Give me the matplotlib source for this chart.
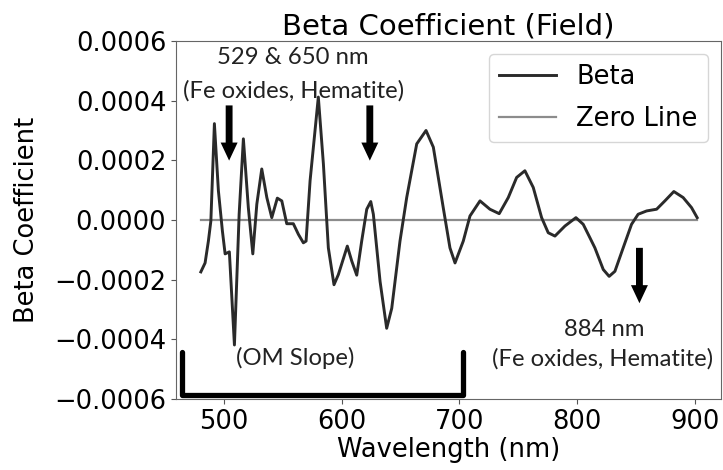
import matplotlib
matplotlib.use("Agg")
import matplotlib.pyplot as plt
from matplotlib.ticker import FuncFormatter, MultipleLocator

wavelength = [480.6, 484.2, 487.0, 489.1, 492.1, 495.5, 498.9, 501.2, 504.8, 509.1,
              513.1, 516.7, 520.9, 524.7, 528.1, 532.3, 536.6, 540.8, 545.5, 549.3,
              553.5, 559.1, 563.4, 567.6, 569.9, 573.3, 580.3, 584.6, 588.8, 593.6,
              597.3, 604.9, 608.7, 612.9, 617.1, 621.4, 624.8, 627.0, 632.7, 638.3,
              642.6, 649.6, 655.3, 663.8, 671.7, 677.9, 686.3, 692.0, 696.3, 703.3,
              709.0, 717.5, 725.9, 733.8, 741.5, 748.6, 755.6, 762.7, 769.8, 775.4,
              781.1, 789.6, 798.9, 805.1, 810.8, 815.0, 822.1, 827.1, 832.0, 839.0,
              846.1, 851.7, 858.9, 867.4, 874.4, 882.0, 889.9, 897.0, 901.8]
beta = [-0.000174, -0.000144, -0.0000708, -0.0000034, 0.000323, 0.0000978, -0.0000371,
        -0.0001136, -0.0001069, -0.000419, 0.0000192, 0.000272, 0.0000415, -0.0001136,
        0.0000529, 0.000171, 0.0000752, 0.0000078, 0.0000732, 0.000064, -0.0000125,
        -0.0000125, -0.0000482, -0.0000765, -0.0000708, 0.0001315, 0.000412, 0.000188,
        -0.0000934, -0.000217, -0.000183, -0.0000876, -0.000138, -0.000185, -0.0000708,
        0.0000361, 0.0000617, 0.0000192, -0.000206, -0.000363, -0.000296, -0.0000708,
        0.0000752, 0.000255, 0.0003, 0.000244, 0.0000415, -0.0000934, -0.000144,
        -0.0000708, 0.0000135, 0.000064, 0.0000361, 0.0000212, 0.0000752, 0.0001426,
        0.000165, 0.0001089, 0.0000078, -0.0000428, -0.0000539, -0.0000202, 0.0000078,
        -0.0000145, -0.0000597, -0.0000934, -0.000166, -0.000189, -0.000172, -0.0000934,
        -0.0000145, 0.0000192, 0.0000303, 0.0000361, 0.000064, 0.0000954, 0.0000752,
        0.0000415, 0.0000078]

arrow_x = [504.6, 624.0, 852.8]
arrow_tail_y = [0.000384, 0.000384, -0.0000934]
arrow_tip_y = [0.000199, 0.000199, -0.000279]

bracket_x = [464.3, 464.3, 703.2, 703.2]
bracket_y = [-0.000443, -0.000585, -0.000585, -0.000443]

fig = plt.figure(figsize=(7.23, 4.70), dpi=100)
ax = fig.add_axes([0.2434, 0.1511, 0.7538, 0.7617])

ax.plot(wavelength, beta, color="#2a2a2a", lw=2.1, label="Beta", zorder=3,
        solid_joinstyle="round")
ax.plot([wavelength[0], wavelength[-1]], [0, 0], color="#8c8c8c", lw=1.6,
        label="Zero Line", zorder=2)

ax.set_xlim(459.5, 922)
ax.set_ylim(-0.0006, 0.0006)
ax.xaxis.set_major_locator(MultipleLocator(100))
ax.yaxis.set_major_locator(MultipleLocator(0.0002))
ax.yaxis.set_major_formatter(FuncFormatter(lambda v, p: ("%.4f" % v).replace("-", "\u2212")))
ax.tick_params(labelsize=18.5, color="#555555")
for s in ax.spines.values():
    s.set_color("#666666")

ax.set_title("Beta Coefficient (Field)", fontsize=21, pad=5)
ax.set_xlabel("Wavelength (nm)", fontsize=18.5, labelpad=2)
ax.set_ylabel("Beta Coefficient", fontsize=18.5, labelpad=10)

ax.legend(loc="upper right", fontsize=18.5, handlelength=2.2, labelspacing=0.6)

for x, y0, y1 in zip(arrow_x, arrow_tail_y, arrow_tip_y):
    ax.annotate("", xy=(x, y1), xytext=(x, y0),
                arrowprops=dict(arrowstyle="simple,head_length=0.5,head_width=0.47,tail_width=0.19",
                                mutation_scale=26, lw=0, fc="black", ec="none",
                                shrinkA=0, shrinkB=0), zorder=5)

ax.plot(bracket_x, bracket_y, color="black", lw=3.8, solid_joinstyle="round",
        solid_capstyle="round", zorder=4, clip_on=False)

afont = dict(family=["Lato", "DejaVu Sans"], fontsize=17.2, color="#222222")
ax.text(558.9, 0.000545, "529 & 650 nm", ha="center", va="center", **afont)
ax.text(559.7, 0.000434, "(Fe oxides, Hematite)", ha="center", va="center", **afont)
ax.text(510.5, -0.000464, "(OM Slope)", ha="left", va="center", **afont)
ax.text(822.7, -0.000368, "884 nm", ha="center", va="center", **afont)
ax.text(821.2, -0.000464, "(Fe oxides, Hematite)", ha="center", va="center", **afont)

fig.savefig("out.png", dpi=100)
